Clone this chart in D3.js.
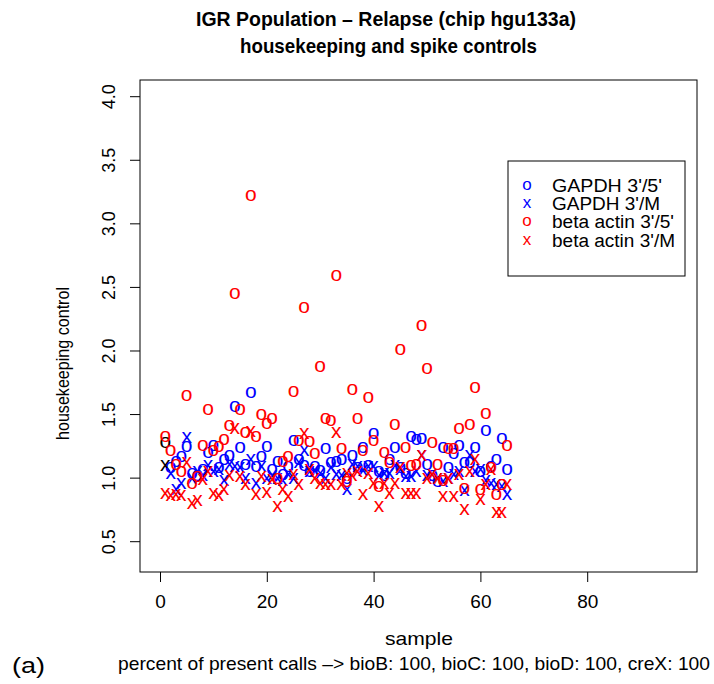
<!DOCTYPE html>
<html>
<head>
<meta charset="utf-8">
<script src="https://cdn.jsdelivr.net/npm/d3@7"></script>
<style>
  body { margin: 0; background: #fff; }
  text { font-family: "Liberation Sans", Arial, sans-serif; }
</style>
</head>
<body>
<svg id="chart" width="714" height="684"></svg>
<script>
// sample index 1..65
const samples = d3.range(1, 66);

// GAPDH 3'/5' (blue o)
const gapdh35 = [1.28,1.08,1.13,1.17,1.245,1.04,1.02,1.065,1.20,1.255,
                 1.08,1.15,1.18,1.56,1.24,1.105,1.675,1.09,1.17,1.25,
                 1.065,1.13,1.026,1.09,1.295,1.145,1.10,1.05,1.09,1.06,
                 1.23,1.12,1.13,1.15,1.00,1.175,1.08,1.24,1.10,1.35,
                 1.05,1.02,1.15,1.24,1.08,1.04,1.33,1.30,1.315,1.105,
                 1.02,0.974,1.24,1.085,1.19,1.26,1.12,1.12,1.24,1.05,
                 1.375,1.09,1.15,1.31,1.07];
// GAPDH 3'/M (blue x)
const gapdh3M = [1.10,1.04,0.91,0.96,1.32,1.00,1.05,1.02,1.10,1.05,
                 1.065,0.98,1.11,1.09,1.08,1.00,1.145,0.96,1.09,1.00,
                 1.02,1.00,0.98,1.03,1.00,1.12,1.22,1.05,1.06,1.04,
                 1.00,1.08,1.03,1.02,0.908,1.105,1.09,1.06,1.09,1.09,
                 1.02,1.04,1.04,1.10,1.065,1.01,1.01,1.05,1.18,1.02,
                 1.03,1.00,0.97,1.00,1.03,1.05,0.90,1.18,1.05,1.07,
                 0.98,0.96,0.95,0.93,0.87];
// beta actin 3'/5' (red o)
const beta35 = [1.33,1.22,1.105,1.05,1.65,0.955,1.01,1.26,1.54,1.22,
                1.25,1.30,1.41,2.45,1.54,1.355,3.22,1.33,1.50,1.43,
                1.465,1.00,1.13,1.17,1.68,1.295,2.34,1.285,1.19,1.88,
                1.465,1.45,2.59,1.23,0.97,1.70,1.47,1.22,1.63,1.295,
                0.934,1.205,1.12,1.42,2.01,1.24,1.10,1.105,2.20,1.86,
                1.28,1.11,0.98,1.23,1.23,1.39,0.92,1.42,1.71,0.913,
                1.505,1.08,0.87,0.95,1.255];
// beta actin 3'/M (red x)
const beta3M = [0.88,0.86,0.87,0.86,1.12,0.80,0.82,0.99,1.05,0.88,
                0.86,0.908,1.02,1.39,1.013,0.947,1.37,0.868,1.013,0.886,
                0.987,0.776,0.908,0.855,1.03,0.947,1.35,1.065,1.00,0.96,
                0.947,0.95,1.355,0.947,1.04,1.02,1.05,0.868,1.04,0.96,
                0.776,0.96,0.88,0.96,1.08,0.88,0.88,0.876,1.18,1.00,
                1.03,1.00,0.855,1.00,0.855,1.03,0.75,1.05,1.145,0.83,
                0.95,1.07,0.73,0.73,0.95];

const xTicks = [0, 20, 40, 60, 80];
const yTicks = [0.5, 1.0, 1.5, 2.0, 2.5, 3.0, 3.5, 4.0];
const legendLabels = ["GAPDH 3'/5'", "GAPDH 3'/M", "beta actin 3'/5'", "beta actin 3'/M"];
const legendWidths = [110, 108, 122, 123];
const legendPch = ["o", "x", "o", "x"];
const legendCol = ["blue", "blue", "red", "red"];

const svg = d3.select("#chart");

// plot frame (pixels)
const box = {left: 140, right: 697, top: 80, bottom: 572};

const x = d3.scaleLinear().domain([0, 80]).range([160, 587.2]);
const y = d3.scaleLinear().domain([0.5, 4]).range([541.7, 96.7]);

svg.append("rect")
  .attr("x", box.left).attr("y", box.top)
  .attr("width", box.right - box.left).attr("height", box.bottom - box.top)
  .attr("fill", "none").attr("stroke", "black").attr("stroke-width", 1);

// x axis
const xAxis = svg.append("g")
  .attr("transform", `translate(0,${box.bottom})`)
  .call(d3.axisBottom(x).tickValues(xTicks).tickSize(10).tickFormat(d3.format("d")));
xAxis.select(".domain").remove();
xAxis.selectAll("text").attr("font-size", 19).attr("dy", 0).attr("y", 36)
  .attr("font-family", "Liberation Sans, Arial, sans-serif");

// y axis, labels parallel to the axis like R
const yAxis = svg.append("g")
  .attr("transform", `translate(${box.left},0)`)
  .call(d3.axisLeft(y).tickValues(yTicks).tickSize(10).tickFormat(d3.format(".1f")));
yAxis.select(".domain").remove();
yAxis.selectAll(".tick").attr("transform", null);
yAxis.selectAll(".tick line").attr("y1", d => y(d)).attr("y2", d => y(d));
yAxis.selectAll("text")
  .attr("font-size", 18)
  .attr("font-family", "Liberation Sans, Arial, sans-serif")
  .attr("text-anchor", "middle")
  .attr("x", 0).attr("y", 0).attr("dy", 0)
  .attr("transform", d => `translate(${115 - box.left},${y(d)}) rotate(-90)`);

// points: R pch characters
const fs = 21;
function drawSeries(vals, pch, firstCol, col) {
  svg.append("g").selectAll("text")
    .data(vals)
    .join("text")
      .attr("x", (d, i) => x(samples[i]))
      .attr("y", d => y(d) + fs * 0.26)
      .attr("text-anchor", "middle")
      .attr("font-size", fs)
      .attr("fill", (d, i) => i === 0 ? firstCol : col)
      .text(pch);
}
drawSeries(gapdh35, "o", "black", "blue");
drawSeries(gapdh3M, "x", "black", "blue");
drawSeries(beta35, "o", "red", "red");
drawSeries(beta3M, "x", "red", "red");

// titles and axis labels
function label(txt, px, py, size, len, opts = {}) {
  const t = svg.append("text").attr("x", px).attr("y", py)
    .attr("font-size", size).attr("textLength", len).attr("lengthAdjust", "spacingAndGlyphs")
    .text(txt);
  if (opts.bold) t.attr("font-weight", "bold");
  if (opts.family) t.attr("font-family", opts.family);
  if (opts.transform) t.attr("transform", opts.transform);
  return t;
}
label("IGR Population \u2013 Relapse (chip hgu133a)", 196, 26, 21, 380, {bold: true});
label("housekeeping and spike controls", 240, 53, 21, 297, {bold: true});
label("sample", 385, 645, 19, 68);
label("housekeeping control", 0, 0, 19, 153, {transform: "translate(69,440) rotate(-90)"});
label("percent of present calls \u2013> bioB: 100, bioC: 100, bioD: 100, creX: 100", 118, 670, 19, 592);
label("(a)", 12, 673, 22, 33, {family: "Liberation Serif, serif"});

// legend
const leg = svg.append("g");
leg.append("rect").attr("x", 508).attr("y", 161).attr("width", 177).attr("height", 115)
  .attr("fill", "white").attr("stroke", "black");
const rows = leg.selectAll("g.row").data(legendLabels).join("g").attr("class", "row")
  .attr("transform", (d, i) => `translate(0,${185 + i * 18.4})`);
rows.append("text").attr("x", 527).attr("y", 4.5).attr("text-anchor", "middle")
  .attr("font-size", 17).attr("fill", (d, i) => legendCol[i]).text((d, i) => legendPch[i]);
rows.append("text").attr("x", 552).attr("y", 6.5).attr("font-size", 18)
  .attr("textLength", (d, i) => legendWidths[i]).attr("lengthAdjust", "spacingAndGlyphs")
  .text(d => d);
</script>
</body>
</html>
